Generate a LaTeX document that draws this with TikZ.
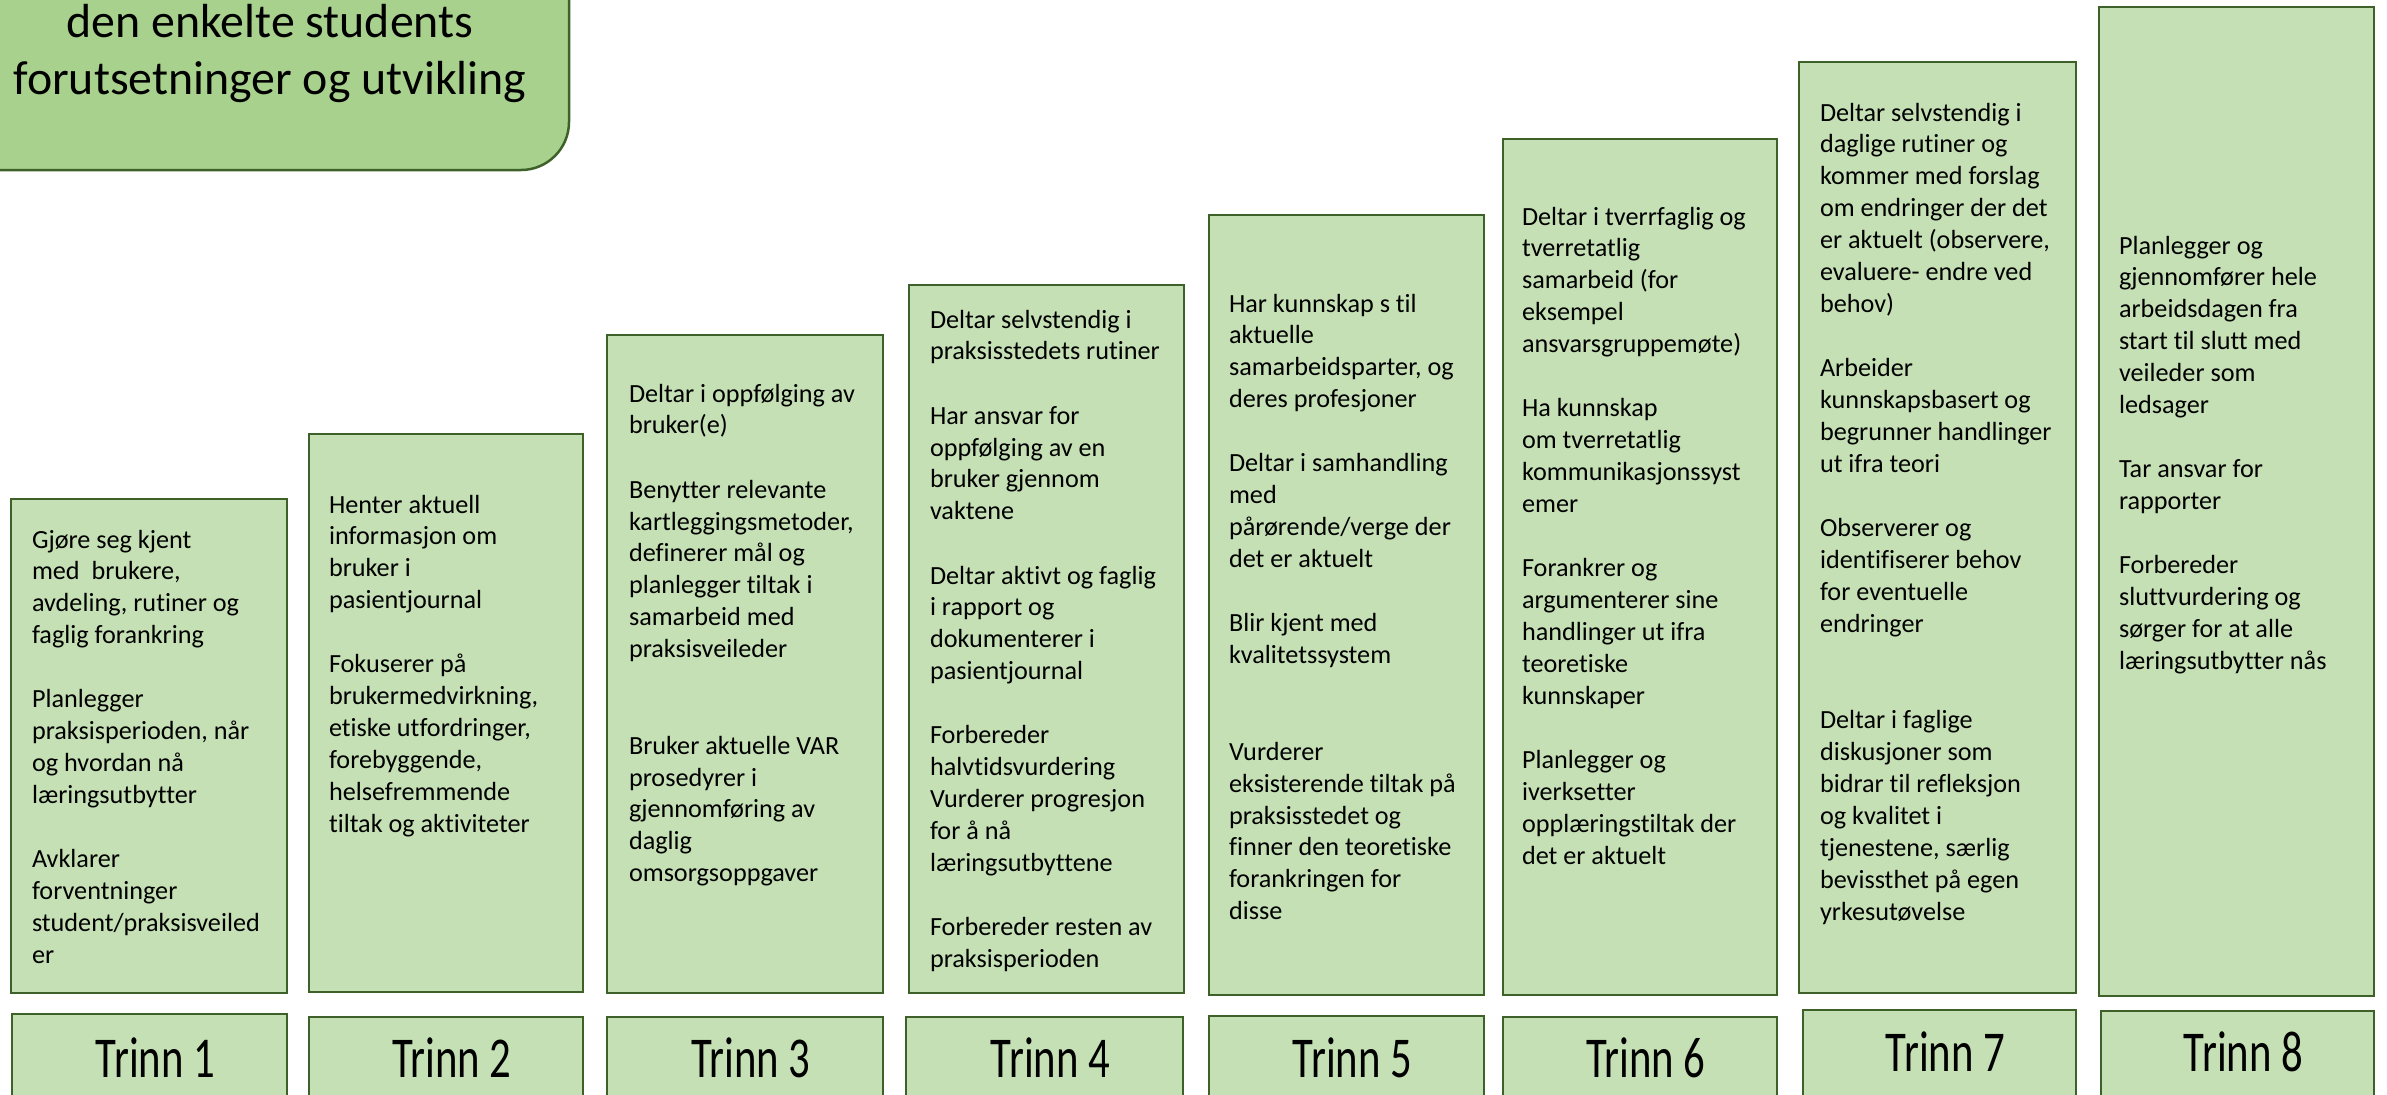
\documentclass[tikz,border=0pt]{standalone}
\usepackage{fontspec}
\setmainfont{Carlito}[Ligatures=NoCommon]
\newfontfamily\trinnfont[FakeStretch=0.74,Ligatures=NoCommon]{Carlito}
\newfontfamily\titlefont[Ligatures=NoCommon]{Carlito}
\definecolor{boxgreen}{HTML}{C5E0B4}
\definecolor{titlegreen}{HTML}{A9D18E}
\definecolor{edgegreen}{HTML}{3D6128}
\newcommand\bl{\\[32.09bp]}
\newcommand\bbl{\\[64.18bp]}
\tikzset{
  stepbox/.style={draw=edgegreen, fill=boxgreen, line width=2.2bp, inner sep=0pt, outer sep=0pt, anchor=north west},
  body/.style={anchor=base west, inner sep=0pt, outer sep=0pt, font=\fontsize{26.3}{32.09}\selectfont},
  trinnlabel/.style={anchor=base, inner sep=0pt, xshift=6bp, font=\trinnfont\fontsize{58}{60}\selectfont},
  titlebox/.style={draw=edgegreen, fill=titlegreen, line width=2.5bp, rounded corners=48bp}
}
\begin{document}
\begin{tikzpicture}[x=1bp, y=-1bp]
\useasboundingbox (0,0) rectangle (2387,1094);
\clip (0,0) rectangle (2387,1094);
% title
\draw[titlebox] (-120,-120) rectangle (569,170);
\node[anchor=base, inner sep=0pt, font=\titlefont\fontsize{48}{58}\selectfont] (title) at (270,37)
  {\parbox[t]{600bp}{\centering den enkelte students\\forutsetninger og utvikling}};
% step boxes
\node[stepbox, minimum width=276bp, minimum height=494bp] (b1) at (11,499) {};
\node[stepbox, minimum width=274bp, minimum height=558bp] (b2) at (309,434) {};
\node[stepbox, minimum width=276bp, minimum height=658bp] (b3) at (607,335) {};
\node[stepbox, minimum width=275bp, minimum height=708bp] (b4) at (909,285) {};
\node[stepbox, minimum width=275bp, minimum height=780bp] (b5) at (1209,215) {};
\node[stepbox, minimum width=274bp, minimum height=856bp] (b6) at (1503,139) {};
\node[stepbox, minimum width=277bp, minimum height=931bp] (b7) at (1799,62) {};
\node[stepbox, minimum width=275bp, minimum height=989bp] (b8) at (2099,7) {};
% texts
\node[body] (x1) at (32,548) {\parbox[t]{300bp}{Gjøre seg kjent\\med~ brukere,\\avdeling, rutiner og\\faglig forankring\bl Planlegger\\praksisperioden, når\\og hvordan nå\\læringsutbytter\bl Avklarer\\forventninger\\student/praksisveiled\\er}};
\node[body] (x2) at (329,513) {\parbox[t]{300bp}{Henter aktuell\\informasjon om\\bruker i\\pasientjournal\bl Fokuserer på\\brukermedvirkning,\\etiske utfordringer,\\forebyggende,\\helsefremmende\\tiltak og aktiviteter}};
\node[body] (x3) at (629,402) {\parbox[t]{300bp}{Deltar i oppfølging av\\bruker(e)\bl Benytter relevante\\kartleggingsmetoder,\\definerer mål og\\planlegger tiltak i\\samarbeid med\\praksisveileder\bbl Bruker aktuelle VAR\\prosedyrer i\\gjennomføring av\\daglig\\omsorgsoppgaver}};
\node[body] (x4) at (930,328) {\parbox[t]{300bp}{Deltar selvstendig i\\praksisstedets rutiner\bl Har ansvar for\\oppfølging av en\\bruker gjennom\\vaktene\bl Deltar aktivt og faglig\\i rapport og\\dokumenterer i\\pasientjournal\bl Forbereder\\halvtidsvurdering\\Vurderer progresjon\\for å nå\\læringsutbyttene\bl Forbereder resten av\\praksisperioden}};
\node[body] (x5) at (1229,312) {\parbox[t]{300bp}{Har kunnskap s til\\aktuelle\\samarbeidsparter, og\\deres profesjoner\bl Deltar i samhandling\\med\\pårørende/verge der\\det er aktuelt\bl Blir kjent med\\kvalitetssystem\bbl Vurderer\\eksisterende tiltak på\\praksisstedet og\\finner den teoretiske\\forankringen for\\disse}};
\node[body] (x6) at (1522,225) {\parbox[t]{300bp}{Deltar i tverrfaglig og\\tverretatlig\\samarbeid (for\\eksempel\\ansvarsgruppemøte)\bl Ha kunnskap\\om tverretatlig\\kommunikasjonssyst\\emer\bl Forankrer og\\argumenterer sine\\handlinger ut ifra\\teoretiske\\kunnskaper\bl Planlegger og\\iverksetter\\opplæringstiltak der\\det er aktuelt}};
\node[body] (x7) at (1820,121) {\parbox[t]{300bp}{Deltar selvstendig i\\daglige rutiner og\\kommer med forslag\\om endringer der det\\er aktuelt (observere,\\evaluere- endre ved\\behov)\bl Arbeider\\kunnskapsbasert og\\begrunner handlinger\\ut ifra teori\bl Observerer og\\identifiserer behov\\for eventuelle\\endringer\bbl Deltar i faglige\\diskusjoner som\\bidrar til refleksjon\\og kvalitet i\\tjenestene, særlig\\bevissthet på egen\\yrkesutøvelse}};
\node[body] (x8) at (2119,254) {\parbox[t]{300bp}{Planlegger og\\gjennomfører hele\\arbeidsdagen fra\\start til slutt med\\veileder som\\ledsager\bl Tar ansvar for\\rapporter\bl Forbereder\\sluttvurdering og\\sørger for at alle\\læringsutbytter nås}};
% trinn boxes
\node[stepbox, minimum width=275bp, minimum height=130bp] (t1) at (12,1014) {};
\node[stepbox, minimum width=274bp, minimum height=130bp] (t2) at (309,1017) {};
\node[stepbox, minimum width=276bp, minimum height=130bp] (t3) at (607,1017) {};
\node[stepbox, minimum width=277bp, minimum height=130bp] (t4) at (906,1017) {};
\node[stepbox, minimum width=275bp, minimum height=130bp] (t5) at (1209,1016) {};
\node[stepbox, minimum width=274bp, minimum height=130bp] (t6) at (1503,1017) {};
\node[stepbox, minimum width=273bp, minimum height=130bp] (t7) at (1803,1010) {};
\node[stepbox, minimum width=273bp, minimum height=130bp] (t8) at (2101,1011) {};
\node[trinnlabel] (l1) at (t1.north |- 0,1077) {Trinn 1};
\node[trinnlabel] (l2) at (t2.north |- 0,1077) {Trinn 2};
\node[trinnlabel] (l3) at (t3.north |- 0,1077) {Trinn 3};
\node[trinnlabel] (l4) at (t4.north |- 0,1077) {Trinn 4};
\node[trinnlabel] (l5) at (t5.north |- 0,1077) {Trinn 5};
\node[trinnlabel] (l6) at (t6.north |- 0,1077) {Trinn 6};
\node[trinnlabel] (l7) at (t7.north |- 0,1071) {Trinn 7};
\node[trinnlabel] (l8) at (t8.north |- 0,1071) {Trinn 8};
\end{tikzpicture}
\end{document}
